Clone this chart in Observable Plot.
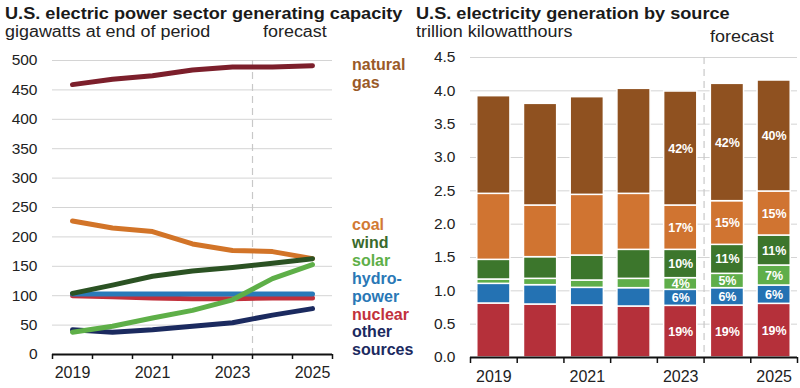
<!DOCTYPE html>
<html>
<head>
<meta charset="utf-8">
<script src="https://cdn.jsdelivr.net/npm/d3@7"></script>
<script src="https://cdn.jsdelivr.net/npm/@observablehq/plot@0.6"></script>
<style>
  html, body { margin: 0; padding: 0; background: #fff; }
  #wrap { position: relative; width: 800px; height: 388px; overflow: hidden;
          font-family: "Liberation Sans", Arial, sans-serif; color: #222; }
  .abs { position: absolute; white-space: nowrap; }
  .title { font-weight: bold; font-size: 16.5px; line-height: 16.5px; color: #1a1a1a;
           transform: scaleX(1.1); transform-origin: 0 0; }
  .sub { font-size: 16px; line-height: 16px; color: #222;
         transform: scaleX(1.12); transform-origin: 0 0; }
  .legend { font-weight: bold; font-size: 16px; line-height: 17.9px; }
  #left, #right { position: absolute; top: 0; }
  #left { left: 0; }
  #right { left: 400px; }
</style>
</head>
<body>
<div id="wrap">
  <div id="left"></div>
  <div id="right"></div>
  <div class="abs title" style="left:5px;top:5px">U.S. electric power sector generating capacity</div>
  <div class="abs sub" style="left:5px;top:24px">gigawatts at end of period</div>
  <div class="abs sub" style="left:263px;top:24px">forecast</div>
  <div class="abs title" style="left:416px;top:5px">U.S. electricity generation by source</div>
  <div class="abs sub" style="left:416px;top:24px">trillion kilowatthours</div>
  <div class="abs sub" style="left:710px;top:28.5px">forecast</div>
  <div class="abs legend" id="legGas" style="left:352px;top:56px"></div>
  <div class="abs legend" id="legRest" style="left:352px;top:216px"></div>
</div>
<script>
// ---------- data ----------
const years = [2019, 2020, 2021, 2022, 2023, 2024, 2025];
const xTickYears = [2019, 2021, 2023, 2025];
const yearBoundaries = [2018.5, 2019.5, 2020.5, 2021.5, 2022.5, 2023.5, 2024.5, 2025.5];
const forecastStart = [2023.5];

// capacity, gigawatts at end of period
const capSeries = ["coal", "nuclear", "hydropower", "other sources", "solar", "wind", "natural gas"];
const capGas     = [459, 468, 474, 484, 489, 489, 491];
const capCoal    = [227, 215, 209, 188, 177, 175, 163];
const capWind    = [104, 118, 133, 142, 148, 155, 163];
const capSolar   = [38, 48, 62, 75, 93, 129, 153];
const capHydro   = [103, 103, 103, 103, 103, 103, 103];
const capNuclear = [100, 98, 96, 95, 95, 96, 96];
const capOther   = [42, 38, 42, 48, 54, 67, 78];
const capYTicks  = [0, 50, 100, 150, 200, 250, 300, 350, 400, 450, 500];

// generation, trillion kWh (stack order bottom -> top)
const genSources = ["nuclear", "hydropower", "solar", "wind", "coal", "natural gas"];
const genNuclear = [0.81, 0.795, 0.78, 0.765, 0.775, 0.78, 0.805];
const genHydro   = [0.295, 0.29, 0.265, 0.275, 0.24, 0.26, 0.275];
const genSolar   = [0.065, 0.095, 0.11, 0.14, 0.175, 0.215, 0.30];
const genWind    = [0.295, 0.325, 0.375, 0.435, 0.425, 0.435, 0.45];
const genCoal    = [0.99, 0.775, 0.91, 0.84, 0.665, 0.655, 0.66];
const genGas     = [1.465, 1.525, 1.465, 1.575, 1.71, 1.76, 1.665];
const pctNuclear = [null, null, null, null, "19%", "19%", "19%"];
const pctHydro   = [null, null, null, null, "6%", "6%", "6%"];
const pctSolar   = [null, null, null, null, "4%", "5%", "7%"];
const pctWind    = [null, null, null, null, "10%", "11%", "11%"];
const pctCoal    = [null, null, null, null, "17%", "15%", "15%"];
const pctGas     = [null, null, null, null, "42%", "42%", "40%"];
const genYTicks  = [0, 0.5, 1, 1.5, 2, 2.5, 3, 3.5, 4, 4.5];

// legend text
const legendTop = ["natural", "gas"];
const legendRest = [["coal","coal"],["wind","wind"],["solar","solar"],["hydro-","hydropower"],["power","hydropower"],["nuclear","nuclear"],["other","other sources"],["sources","other sources"]];

// ---------- styles ----------
const lineColors = {"natural gas": "#7c1f2b", "coal": "#d27428", "wind": "#2b5223", "solar": "#5eaf48",
                    "hydropower": "#2a7ab9", "nuclear": "#c2313c", "other sources": "#1b2a5f"};
const legendColors = {"natural gas": "#9a5a28", "coal": "#d27a34", "wind": "#3a6a2c", "solar": "#5eaf48",
                    "hydropower": "#2a78b6", "nuclear": "#c2313c", "other sources": "#1b2a5f"};
const barColors = {"natural gas": "#8f5120", "coal": "#d07431", "wind": "#3c762c", "solar": "#5fae4a",
                   "hydropower": "#2472b3", "nuclear": "#b5303a"};

// ---------- tables ----------
const capValues = {"natural gas": capGas, "coal": capCoal, "wind": capWind, "solar": capSolar,
                   "hydropower": capHydro, "nuclear": capNuclear, "other sources": capOther};
const capData = capSeries.flatMap(s => years.map((y, i) => ({year: y, series: s, value: capValues[s][i]})));

const genValues = {"nuclear": genNuclear, "hydropower": genHydro, "solar": genSolar, "wind": genWind, "coal": genCoal, "natural gas": genGas};
const genPct = {"nuclear": pctNuclear, "hydropower": pctHydro, "solar": pctSolar, "wind": pctWind, "coal": pctCoal, "natural gas": pctGas};
const genData = years.flatMap((y, i) => genSources.map(s => ({year: y, source: s, value: genValues[s][i], pct: genPct[s][i]})));

const font = "'Liberation Sans', Arial, sans-serif";

// ---------- left chart ----------
const left = Plot.plot({
  width: 400, height: 388,
  marginLeft: 52, marginRight: 68, marginTop: 60, marginBottom: 34,
  style: {fontFamily: font, fontSize: "15.5px", background: "transparent", color: "#222", overflow: "visible"},
  x: {type: "linear", domain: [2018.5, 2025.5], label: null},
  y: {domain: [0, 500], label: null},
  color: {domain: Object.keys(lineColors), range: Object.values(lineColors)},
  marks: [
    Plot.gridY({ticks: capYTicks, stroke: "#d4d4d4", strokeOpacity: 1, strokeWidth: 1}),
    Plot.ruleX(forecastStart, {stroke: "#c8c8c8", strokeWidth: 1.2, strokeDasharray: "7,5"}),
    Plot.axisY({ticks: capYTicks, tickSize: 0, tickPadding: 15, fontSize: "15.5px"}),
    Plot.line(capData, {x: "year", y: "value", z: "series", stroke: "series", strokeWidth: 5, strokeLinecap: "round", strokeLinejoin: "round"}),
    Plot.ruleY([0], {stroke: "#111", strokeWidth: 2}),
    Plot.axisX({ticks: yearBoundaries, tickSize: 5, tickFormat: () => "", stroke: "#111", strokeWidth: 1.5}),
    Plot.axisX({ticks: xTickYears, tickSize: 0, tickPadding: 12, tickFormat: "d", fontSize: "16px"})
  ]
});
document.getElementById("left").appendChild(left);

// ---------- right chart ----------
const barHalf = 0.355;
const right = Plot.plot({
  width: 400, height: 388,
  marginLeft: 70, marginRight: 3, marginTop: 57, marginBottom: 31,
  style: {fontFamily: font, fontSize: "15.5px", background: "transparent", color: "#222", overflow: "visible"},
  x: {type: "linear", domain: [2018.5, 2025.5], label: null},
  y: {domain: [0, 4.5], label: null},
  color: {domain: Object.keys(barColors), range: Object.values(barColors)},
  marks: [
    Plot.gridY({ticks: genYTicks, stroke: "#d4d4d4", strokeOpacity: 1, strokeWidth: 1}),
    Plot.ruleX(forecastStart, {stroke: "#c8c8c8", strokeWidth: 1.2, strokeDasharray: "7,5"}),
    Plot.axisY({ticks: genYTicks, tickSize: 0, tickPadding: 15, tickFormat: ".1f", fontSize: "15.5px"}),
    Plot.rectY(genData, {x1: d => d.year - barHalf, x2: d => d.year + barHalf, y: "value", fill: "source", stroke: "white", strokeWidth: 1.5}),
    Plot.text(genData, Plot.stackY({x: "year", y: "value", z: "source", text: "pct", fill: "white", fontWeight: "bold", fontSize: "12.5px"})),
    Plot.ruleY([0], {stroke: "#111", strokeWidth: 2}),
    Plot.axisX({ticks: yearBoundaries, tickSize: 6, tickFormat: () => "", stroke: "#111", strokeWidth: 1.5}),
    Plot.axisX({ticks: xTickYears, tickSize: 0, tickPadding: 13, tickFormat: "d", fontSize: "16px"})
  ]
});
document.getElementById("right").appendChild(right);

// ---------- legend ----------
const lg = document.getElementById("legGas");
legendTop.forEach(t => { const d = document.createElement("div"); d.textContent = t; d.style.color = legendColors["natural gas"]; lg.appendChild(d); });
const lr = document.getElementById("legRest");
legendRest.forEach(([t, s]) => { const d = document.createElement("div"); d.textContent = t; d.style.color = legendColors[s]; lr.appendChild(d); });
</script>
</body>
</html>
